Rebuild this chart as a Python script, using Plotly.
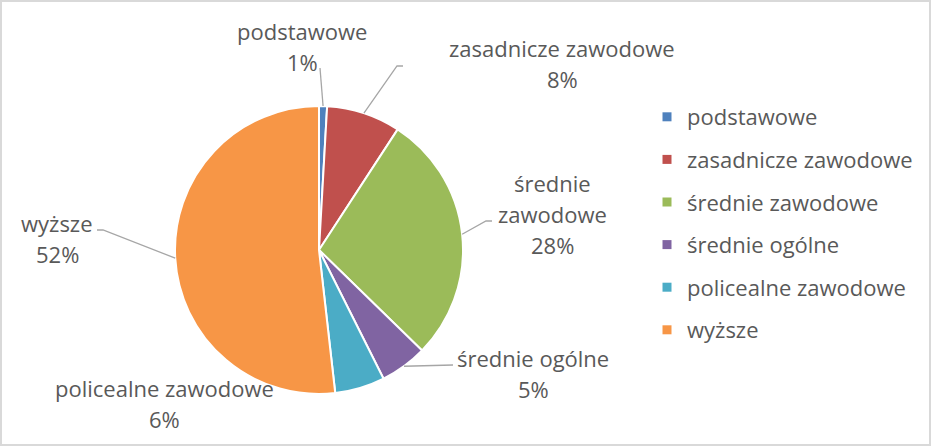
import math
import plotly.graph_objects as go

# udział wykształcenia (%)
categories = ["podstawowe", "zasadnicze zawodowe", "średnie zawodowe",
              "średnie ogólne", "policealne zawodowe", "wyższe"]
values = [0.9, 8.3, 28.1, 5.3, 5.6, 51.8]
colors = ["#4F81BD", "#C0504D", "#9BBB59", "#8064A2", "#4BACC6", "#F79646"]

W, H = 932, 447
CX, CY, R = 319, 250, 144          # pie centre / radius in px
FONT = "Open Sans"
FSIZE = 22
TXT = "#595959"
LINE_H = 31

# label placement (centre x, first line y) and leader line start points, px
label_pos = {
    "podstawowe": (302, 31, False, [(320, 68)]),
    "zasadnicze zawodowe": (562, 48, False, [(403, 66), (397, 66)]),
    "średnie zawodowe": (552, 183, True, [(492, 221), (486, 221)]),
    "średnie ogólne": (533, 358, False, [(453, 365)]),
    "policealne zawodowe": (164, 388, False, []),
    "wyższe": (57, 223, False, [(97, 230), (103, 230)]),
}


def px(x, y):
    return x / W, 1 - y / H


fig = go.Figure()
fig.add_trace(go.Pie(
    labels=categories, values=values, sort=False, direction="clockwise",
    marker=dict(colors=colors, line=dict(color="white", width=2)),
    textinfo="none", showlegend=False, hoverinfo="label+percent",
    domain=dict(x=[(CX - R) / W, (CX + R) / W],
                y=[(H - CY - R) / H, (H - CY + R) / H]),
))

# legend entries, one group each so the gap can be set
for i, (c, col) in enumerate(zip(categories, colors)):
    fig.add_trace(go.Scatter(
        x=[None], y=[None], mode="markers", name=c, legendgroup=str(i),
        marker=dict(symbol="square", size=9, color=col),
    ))

total = sum(values)
shapes = []
annotations = []
cum = 0
for c, v in zip(categories, values):
    ang = 2 * math.pi * (cum + v / 2) / total
    cum += v
    ex, ey = CX + R * math.sin(ang), CY - R * math.cos(ang)
    lx, ly, wrap, lead = label_pos[c]
    lines = (c.split(" ") if wrap else [c]) + [f"{round(v / total * 100)}%"]
    for k, t in enumerate(lines):
        ax_, ay_ = px(lx, ly + k * LINE_H)
        annotations.append(dict(x=ax_, y=ay_, xref="paper", yref="paper",
                                text=t, showarrow=False, xanchor="center",
                                yanchor="middle",
                                font=dict(family=FONT, size=FSIZE, color=TXT)))
    if lead:
        pts = lead + [(ex, ey)]
        path = "M " + " L ".join(f"{px(a, b)[0]} {px(a, b)[1]}" for a, b in pts)
        shapes.append(dict(type="path", path=path, xref="paper", yref="paper",
                           line=dict(color="#A6A6A6", width=1.3)))

# chart frame
shapes.append(dict(type="rect", xref="paper", yref="paper",
                   x0=1 / W, y0=1 - 445 / H, x1=930 / W, y1=1 - 1 / H,
                   line=dict(color="#D9D9D9", width=2)))

fig.update_layout(
    width=W, height=H, margin=dict(l=0, r=0, t=0, b=0),
    paper_bgcolor="white", plot_bgcolor="white",
    xaxis=dict(visible=False), yaxis=dict(visible=False),
    shapes=shapes, annotations=annotations,
    legend=dict(x=647 / W, y=1 - 96 / H, xanchor="left", yanchor="top",
                font=dict(family=FONT, size=FSIZE, color=TXT),
                tracegroupgap=11, bgcolor="rgba(0,0,0,0)"),
)

fig.write_html("out.html", config={"displayModeBar": False},
               post_script="document.body.style.margin='0';")
